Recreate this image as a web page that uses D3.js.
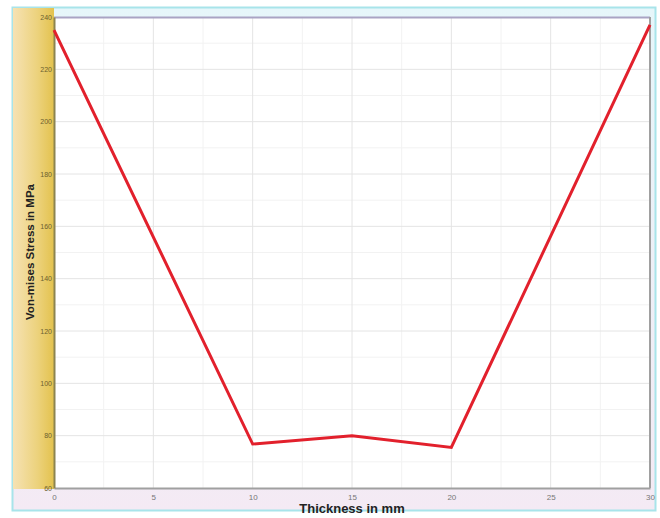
<!DOCTYPE html>
<html>
<head>
<meta charset="utf-8">
<script src="https://cdn.jsdelivr.net/npm/d3@7"></script>
<style>
  body { margin: 0; background: #fff; }
  svg { display: block; font-family: "Liberation Sans", Arial, sans-serif; }
</style>
</head>
<body>
<svg id="chart" width="660" height="518"></svg>
<script>
// thickness (mm) vs Von-mises stress (MPa)
const thickness = [0, 10, 15, 20, 30];
const stress = [235, 76.8, 80, 75.5, 237];
const xTicks = [0, 5, 10, 15, 20, 25, 30];
const yTicks = [60, 80, 100, 120, 140, 160, 180, 200, 220, 240];

const svg = d3.select("#chart");
const margin = {left: 54, top: 17, right: 10, bottom: 30};
const width = 660 - margin.left - margin.right;
const height = 518 - margin.top - margin.bottom;

const defs = svg.append("defs");
const band = defs.append("linearGradient").attr("id", "band");
band.append("stop").attr("offset", "0%").attr("stop-color", "#f6e2b4");
band.append("stop").attr("offset", "60%").attr("stop-color", "#ecd27c");
band.append("stop").attr("offset", "100%").attr("stop-color", "#e3c24e");
const bottomBand = defs.append("linearGradient").attr("id", "bottomBand").attr("x2", 0).attr("y2", 1);
bottomBand.append("stop").attr("offset", "0%").attr("stop-color", "#e6f6fa");
bottomBand.append("stop").attr("offset", "100%").attr("stop-color", "#f4eaf4");

// outer frame
svg.append("rect").attr("x", 12.5).attr("y", 7.5).attr("width", 643).attr("height", 503)
  .attr("fill", "url(#bottomBand)").attr("stroke", "#a8e4ea").attr("stroke-width", 2);
svg.append("rect").attr("x", 13).attr("y", 8).attr("width", margin.left - 13).attr("height", 481)
  .attr("fill", "url(#band)");

const x = d3.scaleLinear().domain([0, 30]).range([0, width]);
const y = d3.scaleLinear().domain([60, 240]).range([height + margin.top - margin.top, 0]);
y.range([488 - margin.top, 0]);

const g = svg.append("g").attr("transform", `translate(${margin.left},${margin.top})`);
const ph = y(60);

g.append("rect").attr("width", width).attr("height", ph).attr("fill", "#fff");

// minor grid
g.append("g").selectAll("line").data(d3.range(2.5, 30, 5)).join("line")
  .attr("x1", d => x(d)).attr("x2", d => x(d)).attr("y1", 0).attr("y2", ph)
  .attr("stroke", "#f2f2f2");
g.append("g").selectAll("line").data(d3.range(70, 240, 20)).join("line")
  .attr("x1", 0).attr("x2", width).attr("y1", d => y(d)).attr("y2", d => y(d))
  .attr("stroke", "#f2f2f2");
// major grid
g.append("g").selectAll("line").data(xTicks.slice(1, -1)).join("line")
  .attr("x1", d => x(d)).attr("x2", d => x(d)).attr("y1", 0).attr("y2", ph)
  .attr("stroke", "#e4e4e4");
g.append("g").selectAll("line").data(yTicks.slice(1, -1)).join("line")
  .attr("x1", 0).attr("x2", width).attr("y1", d => y(d)).attr("y2", d => y(d))
  .attr("stroke", "#e4e4e4");

// frame
g.append("line").attr("x1", 0).attr("x2", width).attr("y1", 0.5).attr("y2", 0.5)
  .attr("stroke", "#a9a4c4").attr("stroke-width", 2);
g.append("line").attr("x1", width).attr("x2", width).attr("y1", 0).attr("y2", ph)
  .attr("stroke", "#a0a0a0").attr("stroke-width", 2);

const xAxis = g.append("g").attr("transform", `translate(0,${ph})`)
  .call(d3.axisBottom(x).tickValues(xTicks).tickSize(0).tickPadding(6));
xAxis.select(".domain").attr("stroke", "#a0a0a0").attr("stroke-width", 2);
xAxis.selectAll("text").attr("fill", "#777").attr("font-size", 8);

const yAxis = g.append("g")
  .call(d3.axisLeft(y).tickValues(yTicks).tickSize(0).tickPadding(2));
yAxis.select(".domain").attr("stroke", "#8c8450").attr("stroke-width", 2);
yAxis.selectAll("text").attr("fill", "#6b6030").attr("font-size", 7);

// series
g.append("path").datum(thickness.map((t, i) => [t, stress[i]]))
  .attr("fill", "none").attr("stroke", "#e2202c").attr("stroke-width", 3)
  .attr("stroke-linejoin", "miter")
  .attr("d", d3.line().x(d => x(d[0])).y(d => y(d[1])));

svg.append("text").attr("x", 352).attr("y", 513).attr("text-anchor", "middle")
  .attr("font-weight", "bold").attr("font-size", 13).attr("fill", "#222")
  .text("Thickness in mm");
svg.append("text").attr("transform", "translate(34,252) rotate(-90)").attr("text-anchor", "middle")
  .attr("font-weight", "bold").attr("font-size", 11.5).attr("fill", "#222")
  .text("Von-mises Stress in MPa");
</script>
</body>
</html>
